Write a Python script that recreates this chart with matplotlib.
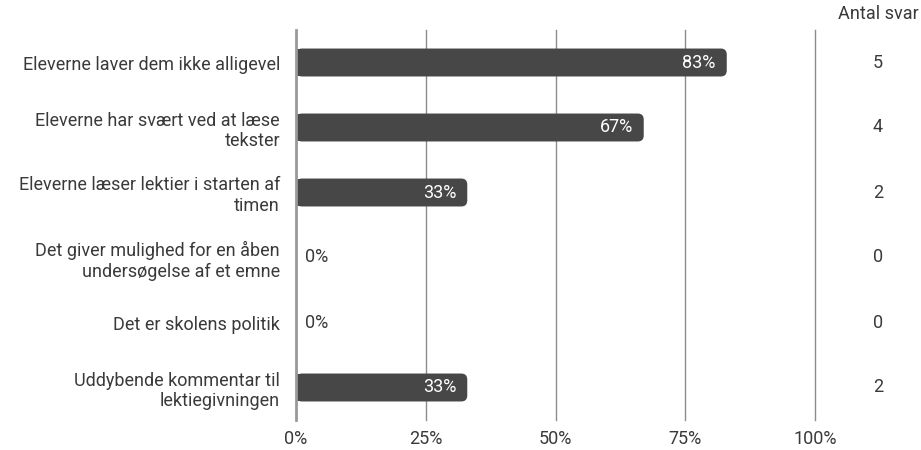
import matplotlib
matplotlib.use("Agg")
import matplotlib.pyplot as plt
import matplotlib.transforms as mtransforms
from matplotlib.patches import FancyBboxPatch, Rectangle

plt.rcParams['font.family'] = ['Roboto', 'DejaVu Sans']

categories = [
    "Eleverne laver dem ikke alligevel",
    "Eleverne har svært ved at læse\ntekster",
    "Eleverne læser lektier i starten af\ntimen",
    "Det giver mulighed for en åben\nundersøgelse af et emne",
    "Det er skolens politik",
    "Uddybende kommentar til\nlektiegivningen",
]
percent = [83, 67, 33, 0, 0, 33]
counts = [5, 4, 2, 0, 0, 2]
xticks = [0, 25, 50, 75, 100]
count_header = "Antal svar"

W, H = 921, 450
fig = plt.figure(figsize=(W / 100, H / 100), dpi=100)
x0, x1, ytop, ybot = 296, 815, 30, 420
ax = fig.add_axes([x0 / W, (H - ybot) / H, (x1 - x0) / W, (ybot - ytop) / H])

n = len(categories)
ax.set_xlim(0, 100)
ax.set_ylim(n - 0.5, -0.5)

fs = 13.0
bar_color = '#474747'
text_color = '#3a3a3a'
grid_color = '#8c8c8c'

for xv in xticks[1:]:
    ax.axvline(xv, color=grid_color, lw=1, zorder=0, clip_on=False)

px_x = 100 / (x1 - x0)
px_y = n / (ybot - ytop)
bh = 0.43
r_px = 6
for i, v in enumerate(percent):
    if v > 0:
        rx = r_px * px_x
        box = FancyBboxPatch((0, i - bh / 2), v, bh,
                             boxstyle=f"round,pad=0,rounding_size={rx}",
                             mutation_aspect=px_y / px_x,
                             fc=bar_color, ec='none', zorder=2)
        ax.add_patch(box)
        ax.add_patch(Rectangle((0, i - bh / 2), v / 2, bh, fc=bar_color, ec='none', zorder=2))
        ax.text(v - 11 * px_x, i, f"{v}%", ha='right', va='center', color='white', fontsize=fs, zorder=3)
    else:
        ax.text(9 * px_x, i, f"{v}%", ha='left', va='center', color=text_color, fontsize=fs, zorder=3)

ax.set_yticks(range(n))
ax.set_yticklabels(categories, fontsize=fs, color=text_color, ha='right', linespacing=1.2)
ax.tick_params(axis='y', length=0, pad=11.5)
ax.set_xticks(xticks)
ax.set_xticklabels([f"{t}%" for t in xticks], fontsize=fs, color=text_color)
ax.tick_params(axis='x', length=0, pad=7.5)

for s in ['top', 'right', 'bottom']:
    ax.spines[s].set_visible(False)
ax.spines['left'].set_color('#999999')
ax.spines['left'].set_linewidth(2)

cx = 878
blend = mtransforms.blended_transform_factory(fig.transFigure, ax.transData)
for i, c in enumerate(counts):
    ax.text(cx / W, i, str(c), transform=blend,
            ha='center', va='center', fontsize=fs, color=text_color)
fig.text(cx / W, 1 - 14 / H, count_header, ha='center', va='center', fontsize=fs, color=text_color)

fig.savefig("out.png", dpi=100)
